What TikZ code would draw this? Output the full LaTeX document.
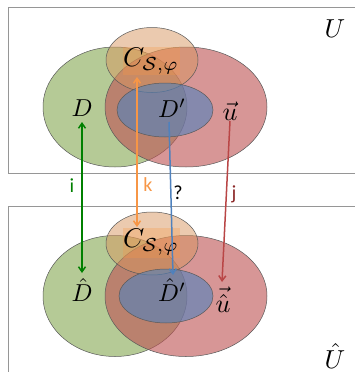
\documentclass[tikz,border=0pt]{standalone}
\usepackage{graphicx}
\usepackage{fontspec}
\newfontfamily\lblfont{Carlito}
\usetikzlibrary{arrows.meta}
\definecolor{cgreen}{RGB}{150,180,105}
\definecolor{cred}{RGB}{190,85,85}
\definecolor{corange}{RGB}{215,150,95}
\definecolor{cblue}{RGB}{79,129,189}
\definecolor{agreen}{RGB}{0,128,0}
\definecolor{aorange}{RGB}{247,150,70}
\definecolor{ared}{RGB}{185,70,70}
\definecolor{jred}{RGB}{140,40,40}
\definecolor{boxgray}{RGB}{150,150,150}
\newcommand{\bigD}[1]{\scalebox{2.45}{$#1$}}
\newcommand{\bigV}[1]{\scalebox{2.6}{$#1$}}
\newcommand{\bigC}[1]{\scalebox{2.7}{$#1$}}
\newcommand{\bigU}[1]{\scalebox{2.6}{$#1$}}
\begin{document}
\begin{tikzpicture}[x=1pt,y=-1pt,
  boxline/.style={draw=boxgray,line width=0.7pt},
  setline/.style={draw=black!65,line width=0.5pt},
  gset/.style={setline,fill=cgreen,fill opacity=0.7},
  rset/.style={setline,fill=cred,fill opacity=0.62},
  oset/.style={setline,fill=corange,fill opacity=0.5},
  bset/.style={setline,fill=cblue,fill opacity=0.6},
  cbox/.style={fill=aorange,fill opacity=0.3,draw=none},
  mlbl/.style={inner sep=0pt},
  albl/.style={inner sep=0pt,font=\lblfont\fontsize{20}{24}\selectfont},
  arr/.style={line width=1.5pt,-{Straight Barb[length=5pt,width=7pt]}},
  darr/.style={line width=1.5pt,{Straight Barb[length=5pt,width=7pt]}-{Straight Barb[length=5pt,width=7pt]}}
]
\useasboundingbox (0,0) rectangle (355,372);
% universe boxes
\draw[boxline] (356,7) -- (8,7) -- (8,173) -- (356,173);
\draw[boxline] (356,206) -- (8,206) -- (8,373);
% top sets
\path[gset] (115,107) ellipse (72pt and 60pt);
\path[rset] (186,107) ellipse (81pt and 60pt);
\path[oset] (152,60) ellipse (46pt and 32.5pt);
\path[cbox] (123,47) rectangle (180,75);
\path[bset] (165,110) ellipse (48pt and 27pt);
% bottom sets
\path[gset] (115,296) ellipse (72pt and 60.5pt);
\path[rset] (186,296) ellipse (81pt and 60.5pt);
\path[oset] (152,243.5) ellipse (46pt and 31.5pt);
\path[cbox] (123,228) rectangle (180,258);
\path[bset] (166,296) ellipse (47pt and 27pt);
% labels top
\node[mlbl] (U) at (335,29) {\bigU{U}};
\node[mlbl] (C) at (151,61) {\bigC{C_{\mathcal{S},\varphi}}};
\node[mlbl] (D) at (82,108) {\bigD{D}};
\node[mlbl] (Dp) at (172,108) {\bigD{D'}};
\node[mlbl] (u) at (230,111) {\bigV{\vec{u}}};
% labels bottom
\node[mlbl] (Uh) at (335,356) {\bigU{\hat{U}}};
\node[mlbl] (Ch) at (151,242) {\bigC{C_{\mathcal{S},\varphi}}};
\node[mlbl] (Dh) at (82,290) {\bigD{\hat{D}}};
\node[mlbl] (Dph) at (172,290) {\bigD{\hat{D}'}};
\node[mlbl] (uh) at (223,300) {\bigV{\vec{\hat{u}}}};
% arrow ends
\coordinate (i1) at (82,122);
\coordinate (i2) at (82,273);
\coordinate (k1) at (137,77);
\coordinate (k2) at (137,227);
\coordinate (q1) at (169,122);
\coordinate (q2) at (173,275);
\coordinate (j1) at (230,121);
\coordinate (j2) at (222,282);
\draw[darr,agreen] (i1) -- (i2);
\draw[darr,aorange] (k1) -- (k2);
\draw[arr,cblue] (q1) -- (q2);
\draw[arr,ared] (j1) -- (j2);
\node[albl,text=agreen] (li) at (72,186) {i};
\node[albl,text=aorange] (lk) at (148,185) {k};
\node[albl,text=black] (lq) at (178,193) {?};
\node[albl,text=jred] (lj) at (234,194) {j};
\end{tikzpicture}
\end{document}
